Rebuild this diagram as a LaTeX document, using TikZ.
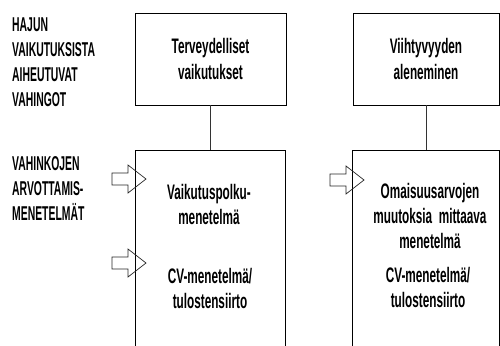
\documentclass[tikz,border=0pt]{standalone}
\usepackage{fontspec}
\setmainfont{Liberation Sans}
\newfontfamily\lowfont[FakeStretch=0.56]{Liberation Sans Bold}
\newfontfamily\capfont[FakeStretch=0.52]{Liberation Sans Bold}
\usetikzlibrary{positioning}

\begin{document}
\begin{tikzpicture}[x=1pt, y=-1pt,
        box/.style = {draw, line width=0.9pt, align=center, inner sep=0pt,
                      font=\lowfont\fontsize{21pt}{26pt}\selectfont},
        lowbox/.style = {inner sep=0pt, minimum height=220pt},
        txt/.style = {align=center, inner sep=0pt, anchor=north,
                      font=\lowfont\fontsize{21pt}{25pt}\selectfont},
        lbl/.style = {align=left, inner sep=0pt, anchor=north west,
                      font=\capfont\fontsize{20pt}{25pt}\selectfont},
        conn/.style = {draw=black!80, line width=0.7pt},
        pics/blockarr/.style = {code={
            \draw[black!85, line width=0.7pt] (0,-6) -- (16,-6) -- (16,-14) -- (34,0)
                -- (16,14) -- (16,6) -- (0,6) -- cycle;}}]
            \useasboundingbox (0,0) rectangle (500,345);

            % labels on the left
            \node[lbl] (vahingot) at (12,18) {HAJUN\\VAIKUTUKSISTA\\AIHEUTUVAT\\VAHINGOT};
            \node[lbl] (menet) at (12,156) {VAHINKOJEN\\ARVOTTAMIS-\\MENETELM\"AT};

            % upper boxes
            \node[box, minimum width=151pt, minimum height=92pt] (terv) at (210.5,59) {Terveydelliset\\vaikutukset};
            \node[box, minimum width=146pt, minimum height=92pt] (viiht) at (426,59) {Viihtyvyyden\\aleneminen};

            % lower boxes, open at the bottom
            \node[lowbox, minimum width=150pt, below=45pt of terv] (lowL) {};
            \node[lowbox, minimum width=146pt, below=45pt of viiht] (lowR) {};
            \draw[line width=0.9pt] (lowL.south west) -- (lowL.north west) -- (lowL.north east) -- (lowL.south east);
            \draw[line width=0.9pt] (lowR.south west) -- (lowR.north west) -- (lowR.north east) -- (lowR.south east);

            \path[conn] (terv) -- (lowL);
            \path[conn] (viiht) -- (lowR);

            % methods
            \node[txt] (polku) at (209,184) {Vaikutuspolku-\\menetelm\"a};
            \node[txt] (cvL) at (210,268) {CV-menetelm\"a/\\tulostensiirto};
            \node[txt] (omais) at (430,183) {Omaisuusarvojen\\muutoksia\ \ mittaava\\menetelm\"a};
            \node[txt] (cvR) at (428,267) {CV-menetelm\"a/\\tulostensiirto};

            \pic (arrA) at (112,179) {blockarr};
            \pic (arrB) at (112,263) {blockarr};
            \pic (arrC) at (330,180) {blockarr};
        \end{tikzpicture}
\end{document}
